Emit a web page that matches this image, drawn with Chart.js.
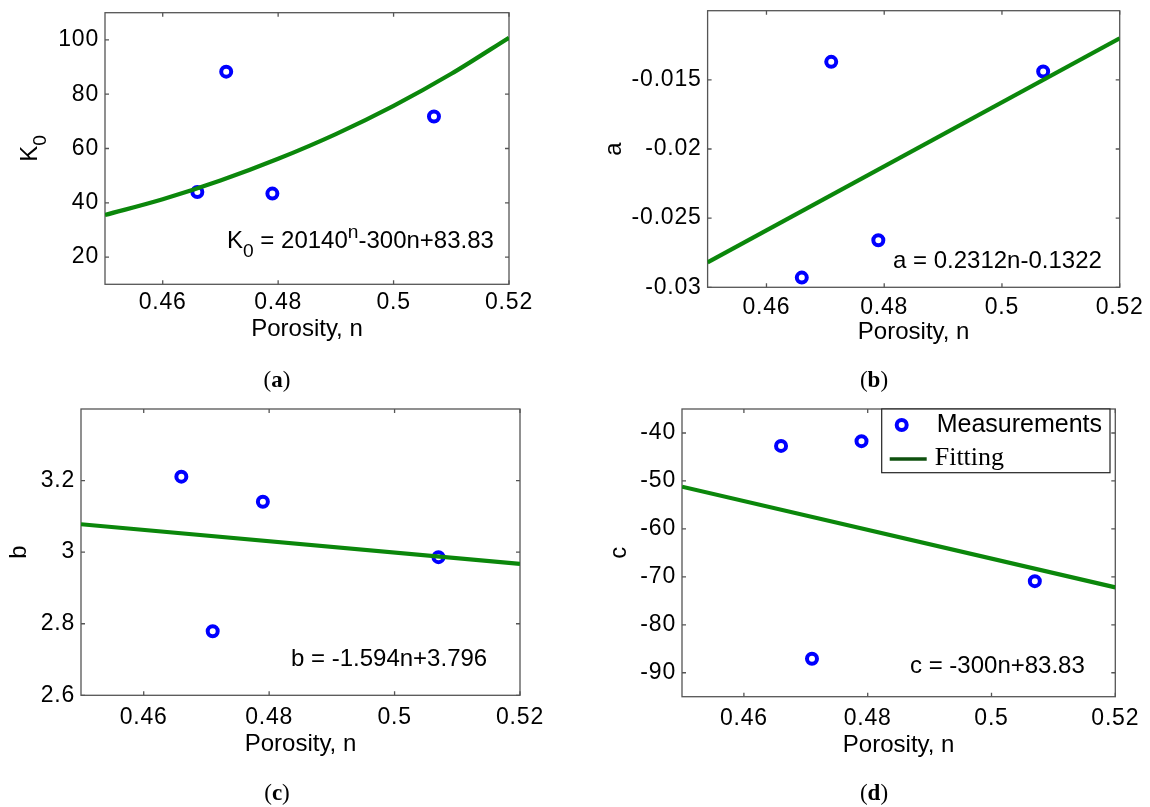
<!DOCTYPE html>
<html>
<head>
<meta charset="utf-8">
<script src="https://cdn.jsdelivr.net/npm/chart.js@4.4.1/dist/chart.umd.min.js"></script>
<style>
  body { margin: 0; background: #fff; width: 1150px; height: 807px; position: relative; overflow: hidden; }
  canvas { position: absolute; }
  .cap { position: absolute; font-family: 'Liberation Serif', 'Times New Roman', serif; font-size: 23px;
         transform: translate(-50%, -50%); white-space: nowrap; color: #000; }
</style>
</head>
<body>
<canvas id="pa" width="575" height="400" style="left:0;top:0"></canvas>
<canvas id="pb" width="575" height="400" style="left:575px;top:0"></canvas>
<canvas id="pc" width="575" height="407" style="left:0;top:400px"></canvas>
<canvas id="pd" width="575" height="407" style="left:575px;top:400px"></canvas>
<div class="cap" style="left:277px;top:380px">(<b>a</b>)</div>
<div class="cap" style="left:874px;top:380px">(<b>b</b>)</div>
<div class="cap" style="left:277px;top:793px">(<b>c</b>)</div>
<div class="cap" style="left:874px;top:793px">(<b>d</b>)</div>
<script>
// measured samples (same porosity for every panel)
const porosity = [0.466, 0.471, 0.479, 0.507];
const k0Meas = [44.0, 88.3, 43.4, 71.8];
const aMeas = [-0.0293, -0.0137, -0.0266, -0.0144];
const bMeas = [3.211, 2.779, 3.141, 2.986];
const cMeas = [-42.7, -87.1, -41.7, -70.9];

// fitted curves
const k0FitN = [0.45, 0.46, 0.47, 0.48, 0.49, 0.50, 0.51, 0.52];
const k0Fit = [35.5, 41.3, 48.2, 56.2, 65.3, 75.7, 87.5, 100.8];
const lineFitN = [0.45, 0.52];
const aFit = [-0.0282, -0.0120];
const bFit = [3.078, 2.967];
const cFit = [-51.2, -72.2];

// tick labels
const xTicks = [0.46, 0.48, 0.5, 0.52];
const k0Ticks = [20, 40, 60, 80, 100];
const aTicks = [-0.03, -0.025, -0.02, -0.015];
const bTicks = [2.6, 2.8, 3, 3.2];
const cTicks = [-90, -80, -70, -60, -50, -40];

const SANS = "'Liberation Sans', Arial, sans-serif";
const SERIF = "'Liberation Serif', 'Times New Roman', serif";
const BLUE = '#0000ff';
const GREEN = '#0b870b';
const AXIS = '#555555';

const fmt = v => parseFloat(Number(v).toFixed(4)).toString();

// draw a string made of normal / sub / sup parts
function richText(ctx, parts, x, y, size, align) {
    const fontOf = p => ((p.sub || p.sup) ? size * 0.8 : size) + 'px ' + SANS;
    let total = 0;
    parts.forEach(p => { ctx.font = fontOf(p); total += ctx.measureText(p.t).width; });
    let cx = align === 'center' ? x - total / 2 : (align === 'right' ? x - total : x);
    ctx.textAlign = 'left';
    ctx.textBaseline = 'alphabetic';
    ctx.fillStyle = '#000';
    parts.forEach(p => {
        ctx.font = fontOf(p);
        const dy = p.sub ? size * 0.38 : (p.sup ? -size * 0.4 : 0);
        ctx.fillText(p.t, cx, y + dy);
        cx += ctx.measureText(p.t).width;
    });
}

const decor = {
    id: 'decor',
    beforeDraw(chart) {
        // tick labels in the source are a little wider spaced
        if ('letterSpacing' in chart.ctx) chart.ctx.letterSpacing = '0.8px';
    },
    beforeDatasetsDraw(chart, args, o) {
        const { ctx, chartArea: a, scales } = chart;
        ctx.save();
        ctx.strokeStyle = AXIS;
        ctx.lineWidth = 1.3;
        ctx.strokeRect(a.left, a.top, a.right - a.left, a.bottom - a.top);
        ctx.beginPath();
        scales.x.ticks.forEach(t => {
            const px = scales.x.getPixelForValue(t.value);
            ctx.moveTo(px, a.bottom); ctx.lineTo(px, a.bottom - 4);
            ctx.moveTo(px, a.top); ctx.lineTo(px, a.top + 4);
        });
        scales.y.ticks.forEach(t => {
            const py = scales.y.getPixelForValue(t.value);
            ctx.moveTo(a.left, py); ctx.lineTo(a.left + 4, py);
            ctx.moveTo(a.right, py); ctx.lineTo(a.right - 4, py);
        });
        ctx.stroke();
        ctx.restore();
    },
    afterDraw(chart, args, o) {
        const { ctx, chartArea: a } = chart;
        ctx.save();
        if ('letterSpacing' in ctx) ctx.letterSpacing = '0px';
        // x title
        richText(ctx, [{ t: 'Porosity, n' }], (a.left + a.right) / 2, a.bottom + o.xTitleGap, 24, 'center');
        // y title, rotated
        ctx.save();
        ctx.translate(o.yTitle.x, (a.top + a.bottom) / 2);
        ctx.rotate(-Math.PI / 2);
        richText(ctx, o.yTitle.parts, 0, 0, 24, 'center');
        ctx.restore();
        // equation
        richText(ctx, o.eq.parts, o.eq.x, o.eq.y, 24, 'left');
        // legend
        if (o.legend) {
            const L = o.legend;
            const ds = chart.data.datasets;
            ctx.fillStyle = '#fff';
            ctx.fillRect(L.x, L.y, L.w, L.h);
            ctx.strokeStyle = '#222';
            ctx.lineWidth = 1.2;
            ctx.strokeRect(L.x, L.y, L.w, L.h);
            ctx.beginPath();
            ctx.arc(L.x + 20, L.y + 16, 5, 0, Math.PI * 2);
            ctx.strokeStyle = BLUE;
            ctx.lineWidth = 4;
            ctx.stroke();
            ctx.fillStyle = '#000';
            ctx.textAlign = 'left';
            ctx.textBaseline = 'middle';
            ctx.font = '25px ' + SANS;
            ctx.fillText(ds[1].label, L.x + 55, L.y + 16);
            ctx.beginPath();
            ctx.moveTo(L.x + 8, L.y + 50); ctx.lineTo(L.x + 45, L.y + 50);
            ctx.strokeStyle = '#0e500e';
            ctx.lineWidth = 3.5;
            ctx.stroke();
            ctx.font = '26px ' + SERIF;
            ctx.fillStyle = '#000';
            ctx.fillText(ds[0].label, L.x + 53, L.y + 49);
        }
        ctx.restore();
    }
};

function makePanel(id, p) {
    const canvas = document.getElementById(id);
    const W = canvas.width, H = canvas.height;
    return new Chart(canvas, {
        type: 'scatter',
        data: {
            datasets: [
                {
                    label: 'Fitting',
                    data: p.fitN.map((n, i) => ({ x: n, y: p.fit[i] })),
                    showLine: true,
                    borderColor: GREEN,
                    borderWidth: 4.2,
                    pointRadius: 0,
                    cubicInterpolationMode: p.fitN.length > 2 ? 'monotone' : 'default',
                    fill: false,
                },
                {
                    label: 'Measurements',
                    data: porosity.map((n, i) => ({ x: n, y: p.meas[i] })),
                    showLine: false,
                    pointRadius: 5,
                    pointBorderWidth: 4,
                    pointBorderColor: BLUE,
                    pointBackgroundColor: 'rgba(0,0,0,0)',
                }
            ]
        },
        options: {
            responsive: false,
            animation: false,
            events: [],
            layout: { padding: { left: 0, top: p.area.top, right: W - p.area.right, bottom: 0 } },
            scales: {
                x: {
                    type: 'linear', min: 0.45, max: 0.52,
                    afterBuildTicks: s => { s.ticks = xTicks.map(v => ({ value: v })); },
                    afterFit: s => { s.height = H - p.area.bottom; s.paddingLeft = 0; s.paddingRight = 0; },
                    grid: { display: false, drawTicks: false },
                    border: { display: false },
                    ticks: { color: '#000', font: { family: SANS, size: 23 }, padding: p.xPad,
                             maxRotation: 0, autoSkip: false, callback: fmt }
                },
                y: {
                    type: 'linear', min: p.yMin, max: p.yMax,
                    afterBuildTicks: s => { s.ticks = p.yTicks.map(v => ({ value: v })); },
                    afterFit: s => { s.width = p.area.left; s.paddingTop = 0; s.paddingBottom = 0; },
                    grid: { display: false, drawTicks: false },
                    border: { display: false },
                    ticks: { color: '#000', font: { family: SANS, size: 23 }, padding: 6,
                             autoSkip: false, callback: fmt }
                }
            },
            plugins: {
                legend: { display: false },
                tooltip: { enabled: false },
                decor: { xTitleGap: p.xTitleGap, yTitle: p.yTitle, eq: p.eq, legend: p.legend }
            }
        },
        plugins: [decor]
    });
}

makePanel('pa', {
    area: { left: 105, top: 12.7, right: 509, bottom: 284.3 },
    yMin: 10, yMax: 110, yTicks: k0Ticks,
    meas: k0Meas, fitN: k0FitN, fit: k0Fit,
    xPad: 5, xTitleGap: 52,
    yTitle: { x: 37, parts: [{ t: 'K' }, { t: '0', sub: true }] },
    eq: { x: 227, y: 248, parts: [{ t: 'K' }, { t: '0', sub: true }, { t: ' = 20140' }, { t: 'n', sup: true }, { t: '-300n+83.83' }] }
});

makePanel('pb', {
    area: { left: 132.6, top: 10.7, right: 544.7, bottom: 287.3 },
    yMin: -0.03, yMax: -0.01, yTicks: aTicks,
    meas: aMeas, fitN: lineFitN, fit: aFit,
    xPad: 7, xTitleGap: 52,
    yTitle: { x: 46, parts: [{ t: 'a' }] },
    eq: { x: 318, y: 268, parts: [{ t: 'a = 0.2312n-0.1322' }] }
});

makePanel('pc', {
    area: { left: 81, top: 1.7, right: 520, bottom: 295.3 },
    yMin: 2.6, yMax: 3.4, yTicks: bTicks,
    meas: bMeas, fitN: lineFitN, fit: bFit,
    xPad: 9, xTitleGap: 56,
    yTitle: { x: 26, parts: [{ t: 'b' }] },
    eq: { x: 291, y: 266, parts: [{ t: 'b = -1.594n+3.796' }] }
});

makePanel('pd', {
    area: { left: 107, top: 3.3, right: 540.3, bottom: 296.7 },
    yMin: -95, yMax: -35, yTicks: cTicks,
    meas: cMeas, fitN: lineFitN, fit: cFit,
    xPad: 8, xTitleGap: 55,
    yTitle: { x: 51, parts: [{ t: 'c' }] },
    eq: { x: 335, y: 273, parts: [{ t: 'c = -300n+83.83' }] },
    legend: { x: 306.7, y: 9, w: 228.3, h: 63.7 }
});
</script>
</body>
</html>
